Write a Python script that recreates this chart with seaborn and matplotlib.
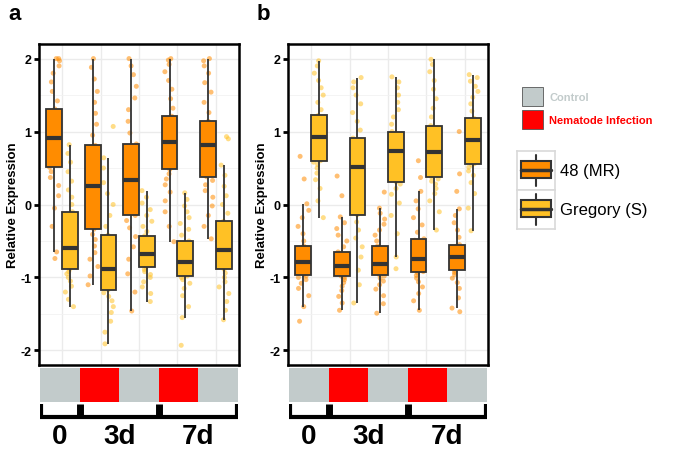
import numpy as np
import pandas as pd
import matplotlib
matplotlib.use("Agg")
import matplotlib.pyplot as plt
import matplotlib.patches as mpatches
import seaborn as sns

# condiciones en el orden del eje x (0, 3d infectado, 3d control, 7d infectado, 7d control)
conditions = ["0", "3d NI", "3d C", "7d NI", "7d C"]
condition_type = ["Control", "Nematode Infection", "Control", "Nematode Infection", "Control"]
time_labels = ["0", "3d", "7d"]
time_pos = [0, 1.5, 3.5]
genotypes = ["48 (MR)", "Gregory (S)"]

# panel a: valores (una lista por condicion)
a_mr = [
    [-0.74, -0.65, -0.3, -0.05, 0.12, 0.26, 0.37, 0.45, 0.51, 0.58, 0.64, 0.7, 0.75, 0.8, 0.85, 0.88, 0.91,
     0.96, 1.0, 1.05, 1.1, 1.16, 1.22, 1.27, 1.31, 1.42, 1.55, 1.68, 1.8, 1.9, 1.97, 2.0, 2.0],
    [-1.1, -0.98, -0.85, -0.75, -0.66, -0.57, -0.48, -0.41, -0.34, -0.25, -0.16, -0.08, 0.0, 0.08, 0.15, 0.21, 0.26,
     0.33, 0.4, 0.48, 0.56, 0.64, 0.71, 0.77, 0.81, 0.95, 1.1, 1.25, 1.4, 1.55, 1.72, 1.88, 2.0],
    [-1.46, -1.2, -0.95, -0.75, -0.58, -0.44, -0.32, -0.22, -0.15, -0.06, 0.02, 0.1, 0.16, 0.21, 0.26, 0.3, 0.33,
     0.39, 0.46, 0.53, 0.6, 0.67, 0.74, 0.79, 0.83, 0.98, 1.14, 1.3, 1.46, 1.62, 1.78, 1.9, 2.0],
    [-0.51, -0.3, -0.1, 0.05, 0.17, 0.27, 0.35, 0.42, 0.48, 0.54, 0.6, 0.65, 0.7, 0.74, 0.78, 0.82, 0.85,
     0.89, 0.94, 0.99, 1.04, 1.09, 1.14, 1.18, 1.21, 1.32, 1.45, 1.58, 1.7, 1.82, 1.92, 1.98, 2.0],
    [-0.47, -0.3, -0.15, -0.02, 0.1, 0.19, 0.27, 0.33, 0.38, 0.45, 0.52, 0.58, 0.64, 0.69, 0.74, 0.78, 0.81,
     0.85, 0.89, 0.93, 0.97, 1.02, 1.07, 1.11, 1.14, 1.26, 1.4, 1.54, 1.67, 1.8, 1.9, 1.97, 2.0],
]
a_greg = [
    [-1.4, -1.3, -1.2, -1.12, -1.05, -1.0, -0.95, -0.92, -0.89, -0.84, -0.8, -0.76, -0.72, -0.68, -0.65, -0.62, -0.59,
     -0.54, -0.49, -0.43, -0.37, -0.3, -0.22, -0.16, -0.1, 0.0, 0.1, 0.2, 0.32, 0.45, 0.58, 0.7, 0.82],
    [-1.91, -1.75, -1.6, -1.48, -1.4, -1.32, -1.26, -1.21, -1.17, -1.12, -1.08, -1.04, -1.0, -0.97, -0.94, -0.91, -0.89,
     -0.84, -0.78, -0.72, -0.65, -0.58, -0.52, -0.47, -0.42, -0.3, -0.15, 0.0, 0.15, 0.3, 0.5, 0.64, 1.07],
    [-1.33, -1.22, -1.13, -1.06, -1.0, -0.96, -0.92, -0.89, -0.86, -0.83, -0.8, -0.78, -0.76, -0.74, -0.72, -0.7, -0.68,
     -0.65, -0.62, -0.59, -0.56, -0.52, -0.49, -0.46, -0.43, -0.37, -0.3, -0.23, -0.15, -0.07, 0.02, 0.1, 0.19],
    [-1.93, -1.55, -1.4, -1.25, -1.15, -1.08, -1.03, -1.0, -0.98, -0.95, -0.92, -0.89, -0.87, -0.85, -0.83, -0.81, -0.79,
     -0.76, -0.72, -0.68, -0.64, -0.6, -0.56, -0.53, -0.5, -0.42, -0.34, -0.26, -0.18, -0.1, -0.02, 0.07, 0.16],
    [-1.58, -1.45, -1.33, -1.22, -1.13, -1.06, -1.0, -0.94, -0.89, -0.84, -0.8, -0.76, -0.73, -0.7, -0.67, -0.64, -0.62,
     -0.57, -0.52, -0.47, -0.42, -0.36, -0.31, -0.27, -0.23, -0.12, 0.0, 0.12, 0.25, 0.4, 0.54, 0.9, 0.93],
]

# panel b
b_mr = [
    [-1.6, -1.4, -1.25, -1.15, -1.08, -1.03, -1.0, -0.98, -0.96, -0.93, -0.9, -0.88, -0.86, -0.84, -0.82, -0.8, -0.79,
     -0.76, -0.73, -0.7, -0.67, -0.64, -0.61, -0.59, -0.57, -0.5, -0.4, -0.3, -0.18, -0.08, 0.01, 0.35, 0.66],
    [-1.45, -1.35, -1.26, -1.18, -1.12, -1.07, -1.03, -1.0, -0.98, -0.96, -0.94, -0.92, -0.9, -0.88, -0.87, -0.85, -0.84,
     -0.81, -0.78, -0.76, -0.73, -0.71, -0.69, -0.67, -0.65, -0.58, -0.5, -0.42, -0.33, -0.25, -0.17, 0.12, 0.39],
    [-1.49, -1.36, -1.25, -1.16, -1.1, -1.05, -1.01, -0.98, -0.96, -0.94, -0.92, -0.9, -0.88, -0.86, -0.85, -0.83, -0.82,
     -0.79, -0.76, -0.72, -0.68, -0.65, -0.62, -0.59, -0.57, -0.5, -0.42, -0.35, -0.27, -0.2, -0.12, -0.05, 0.17],
    [-1.45, -1.32, -1.22, -1.13, -1.06, -1.01, -0.97, -0.94, -0.92, -0.9, -0.87, -0.85, -0.83, -0.8, -0.78, -0.77, -0.75,
     -0.72, -0.68, -0.64, -0.6, -0.56, -0.52, -0.49, -0.47, -0.38, -0.28, -0.18, -0.06, 0.05, 0.18, 0.37, 0.6],
    [-1.47, -1.42, -1.28, -1.15, -1.07, -1.01, -0.96, -0.93, -0.9, -0.87, -0.84, -0.81, -0.79, -0.77, -0.75, -0.73, -0.72,
     -0.7, -0.68, -0.66, -0.63, -0.61, -0.59, -0.57, -0.55, -0.45, -0.35, -0.25, -0.15, -0.06, 0.18, 0.42, 1.0],
]
b_greg = [
    [-0.18, 0.05, 0.22, 0.34, 0.43, 0.5, 0.55, 0.58, 0.6, 0.65, 0.7, 0.74, 0.78, 0.82, 0.86, 0.89, 0.92,
     0.96, 1.0, 1.04, 1.08, 1.12, 1.16, 1.19, 1.22, 1.3, 1.4, 1.5, 1.6, 1.7, 1.8, 1.9, 1.97],
    [-1.35, -1.1, -0.9, -0.72, -0.58, -0.46, -0.35, -0.24, -0.14, -0.02, 0.1, 0.2, 0.28, 0.36, 0.42, 0.47, 0.51,
     0.56, 0.61, 0.66, 0.71, 0.76, 0.81, 0.86, 0.91, 1.02, 1.14, 1.26, 1.38, 1.5, 1.6, 1.68, 1.74],
    [-0.88, -0.72, -0.4, -0.15, 0.02, 0.14, 0.22, 0.28, 0.31, 0.38, 0.45, 0.52, 0.58, 0.63, 0.67, 0.71, 0.74,
     0.77, 0.8, 0.83, 0.86, 0.9, 0.94, 0.97, 1.0, 1.1, 1.2, 1.3, 1.4, 1.5, 1.6, 1.68, 1.75],
    [-0.35, -0.1, 0.05, 0.15, 0.22, 0.28, 0.32, 0.35, 0.38, 0.43, 0.48, 0.53, 0.57, 0.61, 0.65, 0.69, 0.72,
     0.76, 0.8, 0.85, 0.9, 0.95, 1.0, 1.04, 1.08, 1.2, 1.32, 1.45, 1.58, 1.7, 1.82, 1.92, 1.99],
    [-0.36, -0.05, 0.15, 0.3, 0.4, 0.46, 0.51, 0.54, 0.56, 0.61, 0.66, 0.7, 0.74, 0.78, 0.82, 0.85, 0.88,
     0.92, 0.96, 1.0, 1.04, 1.08, 1.12, 1.15, 1.18, 1.28, 1.38, 1.47, 1.55, 1.62, 1.69, 1.74, 1.78],
]

palette = {"48 (MR)": "#FF8C00", "Gregory (S)": "#FFC125"}
strip_colors = {"Control": "#C2CBCB", "Nematode Infection": "#FF0000"}


def to_long(mr, greg):
    rows = []
    for cond, v1, v2 in zip(conditions, mr, greg):
        rows += [(cond, genotypes[0], v) for v in v1]
        rows += [(cond, genotypes[1], v) for v in v2]
    return pd.DataFrame(rows, columns=["cond", "genotype", "value"])


sns.set_theme(style="white")
plt.rcParams["font.family"] = ["Liberation Sans", "DejaVu Sans"]
plt.rcParams["text.color"] = "black"
plt.rcParams["axes.labelcolor"] = "black"
plt.rcParams["xtick.color"] = "black"
plt.rcParams["ytick.color"] = "black"

fig = plt.figure(figsize=(6.75, 4.52), dpi=100)
W, H = 675, 452

np.random.seed(3)
for left, letter, mr, greg in [(39, "a", a_mr, a_greg), (288, "b", b_mr, b_greg)]:
    df = to_long(mr, greg)
    ax = fig.add_axes([left / W, 1 - 366 / H, 200 / W, 321 / H])
    sns.stripplot(data=df, x="cond", y="value", hue="genotype", order=conditions, hue_order=genotypes,
                  palette=palette, dodge=True, jitter=0.28, size=3.6, alpha=0.55, linewidth=0,
                  legend=False, ax=ax, zorder=1)
    sns.boxplot(data=df, x="cond", y="value", hue="genotype", order=conditions, hue_order=genotypes,
                palette=palette, width=0.82, gap=0, showfliers=False, showcaps=False, saturation=1,
                linewidth=1.3, linecolor="#333333", medianprops=dict(linewidth=3, color="#333333"),
                legend=False, ax=ax)
    ax.set_xlim(-0.6, 4.6)
    ax.set_ylim(-2.2, 2.2)
    ax.set_yticks([-2, -1, 0, 1, 2])
    ax.set_yticklabels(["-2", "-1", "0", "1", "2"], fontweight="bold", fontsize=9, color="black")
    ax.set_yticks([-1.5, -0.5, 0.5, 1.5], minor=True)
    ax.grid(True, which="major", color="#EBEBEB", linewidth=1)
    ax.grid(True, which="minor", axis="y", color="#F2F2F2", linewidth=0.6)
    ax.set_axisbelow(True)
    ax.tick_params(axis="x", length=0, labelbottom=False)
    ax.tick_params(axis="y", which="major", left=True, length=3.5, width=2, color="black", pad=2)
    ax.tick_params(axis="y", which="minor", length=0)
    ax.set_xlabel("")
    ax.set_ylabel("Relative Expression", fontweight="bold", fontsize=9.5, labelpad=1, color="black")
    for s in ax.spines.values():
        s.set_color("black")
        s.set_linewidth(1.8)
    fig.text((left - 31) / W, 1 - 15 / H, letter, fontsize=16, fontweight="bold", va="center", ha="left",
             color="black")

    # barra de condiciones
    sx = fig.add_axes([(left + 1) / W, 1 - 403 / H, 198 / W, 34 / H])
    sx.bar(range(len(conditions)), [1] * len(conditions), width=1,
           color=[strip_colors[c] for c in condition_type], linewidth=0)
    sx.set_xlim(-0.5, 4.5)
    sx.set_ylim(0, 1)
    sx.axis("off")

    # corchetes de tiempo
    bx = fig.add_axes([(left + 1) / W, 0, 198 / W, 49 / H])
    bx.set_xlim(-0.5, 4.5)
    bx.set_ylim(0, 49)
    bx.axis("off")
    bx.plot([-0.5, 4.5], [34.5, 34.5], color="black", linewidth=3, solid_capstyle="butt")
    for xb, lw in [(-0.47, 3), (0.5, 5), (2.5, 5), (4.47, 3)]:
        bx.plot([xb, xb], [33.5, 47], color="black", linewidth=lw, solid_capstyle="butt")
    for xt, lab in zip(time_pos, time_labels):
        bx.text(xt, 15, lab, fontsize=20, fontweight="bold", ha="center", va="center", color="black")

# leyenda de condiciones
for i, ctype in enumerate(["Control", "Nematode Infection"]):
    ytop = 88 + i * 23
    fig.patches.append(mpatches.Rectangle((522 / W, 1 - (ytop + 19) / H), 21 / W, 19 / H,
                                          transform=fig.transFigure, facecolor=strip_colors[ctype],
                                          edgecolor="#555555", linewidth=0.6))
    fig.text(549 / W, 1 - (ytop + 10) / H, ctype, fontsize=8, fontweight="bold",
             color="#C2CBCB" if ctype == "Control" else "#FF0000", va="center")

# leyenda de genotipos (estilo ggplot)
for i, g in enumerate(genotypes):
    ytop = 152 + i * 39
    kx = fig.add_axes([517 / W, 1 - (ytop + 39) / H, 38 / W, 39 / H])
    kx.set_xlim(0, 1)
    kx.set_ylim(0, 1)
    kx.set_xticks([])
    kx.set_yticks([])
    for s in kx.spines.values():
        s.set_color("#D9D9D9")
        s.set_linewidth(1.2)
    kx.plot([0.5, 0.5], [0.1, 0.9], color="#333333", linewidth=1.5)
    kx.add_patch(mpatches.Rectangle((0.1, 0.3), 0.8, 0.44, facecolor=palette[g], edgecolor="#333333",
                                    linewidth=1.5, zorder=3))
    kx.plot([0.1, 0.9], [0.52, 0.52], color="#333333", linewidth=2.5, zorder=4)
    fig.text(560 / W, 1 - (ytop + 20) / H, g, fontsize=12, va="center", color="black")

fig.savefig("out.png", dpi=100)
